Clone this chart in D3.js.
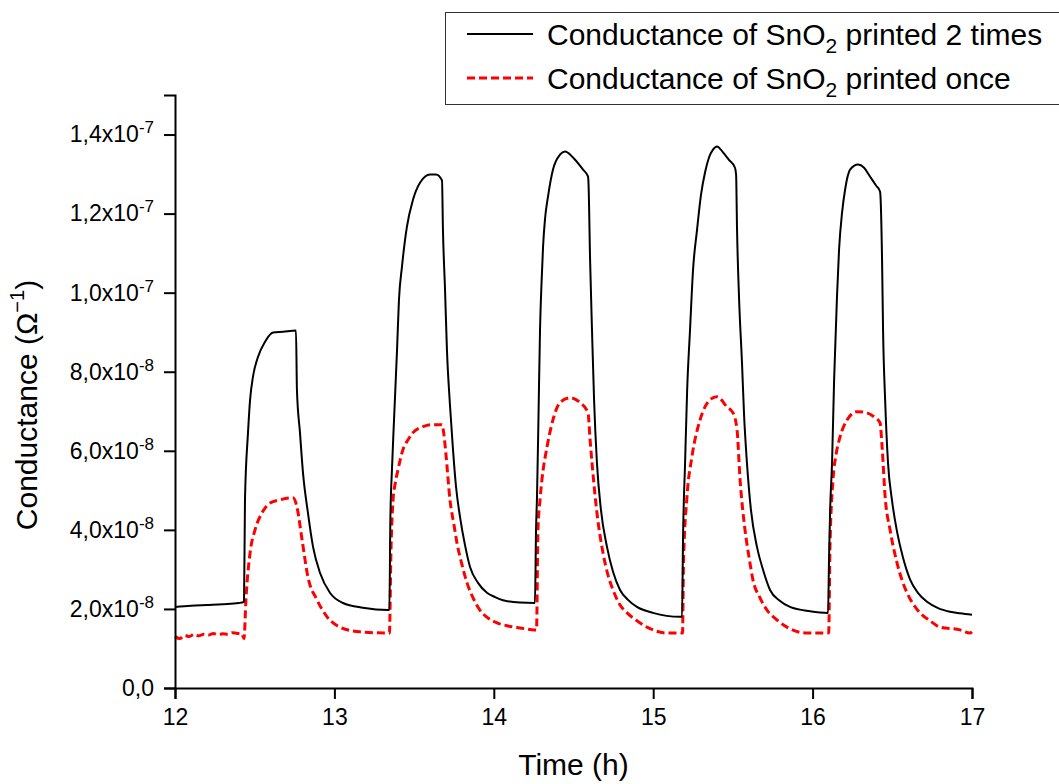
<!DOCTYPE html>
<html>
<head>
<meta charset="utf-8">
<script src="https://cdn.jsdelivr.net/npm/d3@7"></script>
<style>
  body { margin: 0; background: #fff; }
  svg { display: block; font-family: Arial, "Liberation Sans", sans-serif; }
</style>
</head>
<body>
<svg id="chart"></svg>
<script>
// time in hours, conductance in units of 1e-8 ohm^-1
var timeTwice = [12.00, 12.10, 12.20, 12.30, 12.40, 12.433,
  12.439, 12.458, 12.471, 12.489, 12.521, 12.565, 12.615, 12.678, 12.759,
  12.765, 12.784, 12.803, 12.834, 12.866, 12.910, 12.972, 13.054, 13.179, 13.336,
  13.345, 13.351, 13.361, 13.374, 13.393, 13.405, 13.424, 13.455, 13.493, 13.537, 13.600, 13.637, 13.675,
  13.681, 13.694, 13.706, 13.725, 13.744, 13.763, 13.788, 13.819, 13.851, 13.901, 13.957, 14.008, 14.058, 14.164, 14.258,
  14.265, 14.271, 14.280, 14.290, 14.299, 14.309, 14.321, 14.340, 14.371, 14.415, 14.447, 14.497, 14.560, 14.591, 14.594,
  14.604, 14.616, 14.629, 14.647, 14.672, 14.710, 14.748, 14.792, 14.842, 14.898, 14.999, 15.168, 15.181,
  15.187, 15.200, 15.213, 15.231, 15.250, 15.275, 15.300, 15.325, 15.350, 15.375, 15.400, 15.438, 15.475, 15.513, 15.520,
  15.526, 15.539, 15.557, 15.570, 15.588, 15.613, 15.651, 15.689, 15.733, 15.796, 15.858, 15.984, 16.097,
  16.103, 16.110, 16.122, 16.135, 16.153, 16.166, 16.185, 16.204, 16.235, 16.285, 16.323, 16.360, 16.398, 16.423, 16.426,
  16.436, 16.442, 16.455, 16.473, 16.498, 16.530, 16.567, 16.611, 16.662, 16.718, 16.787, 16.862, 16.925, 17.0];
var gTwice = [2.05, 2.08, 2.10, 2.12, 2.15, 2.18,
  4.76, 6.46, 7.29, 7.87, 8.38, 8.76, 8.99, 9.01, 9.04,
  7.54, 6.46, 5.44, 4.43, 3.57, 2.91, 2.41, 2.15, 2.03, 1.97,
  1.97, 4.25, 5.52, 6.78, 8.56, 9.82, 10.66, 11.67, 12.35, 12.78, 12.99, 12.99, 12.84,
  11.59, 10.08, 8.56, 7.16, 6.03, 5.09, 4.33, 3.62, 3.06, 2.66, 2.41, 2.30, 2.22, 2.16, 2.15,
  4.00, 4.84, 6.78, 9.06, 10.20, 11.16, 11.85, 12.43, 13.11, 13.49, 13.57, 13.42, 13.11, 12.94, 12.78,
  10.84, 9.06, 7.29, 5.70, 4.51, 3.57, 2.94, 2.48, 2.23, 2.05, 1.90, 1.80, 1.80,
  3.75, 5.70, 7.54, 9.06, 10.58, 11.59, 12.48, 13.04, 13.42, 13.62, 13.70, 13.55, 13.36, 13.16, 12.99,
  11.59, 9.82, 8.23, 6.91, 5.70, 4.51, 3.57, 2.99, 2.48, 2.20, 2.05, 1.94, 1.90,
  3.24, 4.51, 5.70, 7.80, 9.90, 11.09, 12.03, 12.61, 13.11, 13.24, 13.16, 12.94, 12.71, 12.56, 12.43,
  10.76, 9.06, 7.29, 5.70, 4.75, 3.95, 3.30, 2.75, 2.40, 2.18, 2.02, 1.93, 1.89, 1.85];

var timeOnce = [12.00, 12.03, 12.06, 12.09, 12.12, 12.15, 12.18, 12.21, 12.24, 12.27, 12.30, 12.33, 12.36, 12.39, 12.42, 12.433,
  12.445, 12.471, 12.502, 12.546, 12.596, 12.659, 12.740,
  12.765, 12.797, 12.834, 12.891, 12.954, 13.035, 13.161, 13.335,
  13.345, 13.355, 13.368, 13.380, 13.399, 13.430, 13.462, 13.493, 13.556, 13.612, 13.675,
  13.687, 13.700, 13.725, 13.750, 13.769, 13.801, 13.832, 13.870, 13.913, 13.964, 14.020, 14.089, 14.164, 14.258,
  14.268, 14.277, 14.290, 14.302, 14.334, 14.371, 14.415, 14.478, 14.541, 14.591,
  14.604, 14.616, 14.647, 14.685, 14.716, 14.748, 14.792, 14.836, 14.898, 14.961, 15.087, 15.175,
  15.184, 15.190, 15.212, 15.243, 15.294, 15.356, 15.400, 15.463, 15.501,
  15.526, 15.545, 15.576, 15.602, 15.626, 15.670, 15.714, 15.777, 15.839, 15.965, 16.097,
  16.101, 16.109, 16.128, 16.147, 16.172, 16.216, 16.279, 16.341, 16.385, 16.423,
  16.436, 16.455, 16.486, 16.530, 16.561, 16.592, 16.630, 16.674, 16.737, 16.799, 16.925, 16.987, 17.0];
var gOnce = [1.30, 1.25, 1.33, 1.30, 1.36, 1.32, 1.36, 1.34, 1.38, 1.35, 1.37, 1.36, 1.40, 1.38, 1.37, 1.25,
  2.23, 3.42, 4.00, 4.43, 4.68, 4.76, 4.81,
  4.58, 3.75, 2.81, 2.23, 1.80, 1.54, 1.42, 1.39,
  1.39, 3.49, 4.76, 5.14, 5.52, 6.03, 6.28, 6.46, 6.61, 6.66, 6.66,
  6.41, 5.90, 4.76, 4.13, 3.67, 3.11, 2.66, 2.28, 1.97, 1.77, 1.65, 1.57, 1.52, 1.47,
  1.47, 4.00, 4.76, 5.27, 6.10, 6.78, 7.22, 7.34, 7.22, 6.96,
  6.28, 5.70, 4.43, 3.42, 2.86, 2.48, 2.10, 1.90, 1.70, 1.54, 1.39, 1.39,
  1.39, 3.16, 4.84, 5.85, 6.78, 7.29, 7.37, 7.11, 6.96,
  6.53, 5.27, 4.00, 3.29, 2.73, 2.28, 1.97, 1.72, 1.54, 1.39, 1.39,
  1.40, 3.57, 5.27, 5.90, 6.35, 6.78, 6.99, 6.96, 6.86, 6.71,
  6.10, 4.84, 4.00, 3.16, 2.73, 2.41, 2.13, 1.90, 1.70, 1.54, 1.47, 1.39, 1.42];

var xMajor = [12, 13, 14, 15, 16, 17];
var xMinor = [12.5, 13.5, 14.5, 15.5, 16.5];
var yMajor = [0, 2, 4, 6, 8, 10, 12, 14];
var yMinor = [1, 3, 5, 7, 9, 11, 13, 15];

var legendNames = ["printed 2 times", "printed once"];

function zip(t, v) {
  return t.map(function(d, i) { return { t: d, g: v[i] }; });
}

function drawChart() {
  var svgWidth = 1059, svgHeight = 784;
  var left = 175, right = 972, top = 95, bottom = 688;

  var svg = d3.select("#chart")
    .attr("width", svgWidth)
    .attr("height", svgHeight);

  svg.append("rect").attr("width", svgWidth).attr("height", svgHeight).attr("fill", "#fff");

  var x = d3.scaleLinear().domain([12, 17]).range([left, right]);
  var y = d3.scaleLinear().domain([0, 15]).range([bottom, top]);

  var line = d3.line()
    .x(function(d) { return x(d.t); })
    .y(function(d) { return y(d.g); })
    .curve(d3.curveMonotoneX);

  // curves
  svg.append("path")
    .datum(zip(timeOnce, gOnce))
    .attr("fill", "none")
    .attr("stroke", "#ff0000")
    .attr("stroke-width", 3)
    .attr("stroke-dasharray", "8,4")
    .attr("d", line);

  svg.append("path")
    .datum(zip(timeTwice, gTwice))
    .attr("fill", "none")
    .attr("stroke", "#000")
    .attr("stroke-width", 2)
    .attr("stroke-linejoin", "round")
    .attr("d", line);

  // x axis, major + minor ticks
  var gx = svg.append("g").attr("transform", "translate(0," + bottom + ")");
  gx.call(d3.axisBottom(x).tickValues(xMinor).tickSize(6).tickFormat(""));
  gx.call(d3.axisBottom(x).tickValues(xMajor).tickSize(11).tickPadding(10).tickFormat(d3.format("d")));

  var gy = svg.append("g").attr("transform", "translate(" + left + ",0)");
  gy.call(d3.axisLeft(y).tickValues(yMinor).tickSize(6).tickFormat(""));
  gy.call(d3.axisLeft(y).tickValues(yMajor).tickSize(11).tickPadding(10).tickFormat(""));

  // labels like 1,4x10^-7
  gy.selectAll(".tick text").each(function(d) {
    var t = d3.select(this);
    t.text(null);
    if (d === 0) { t.text("0,0"); return; }
    var p = Math.floor(Math.log10(d));
    var mant = (d / Math.pow(10, p)).toFixed(1).replace(".", ",");
    t.append("tspan").text(mant + "x10");
    t.append("tspan").attr("dy", -9).attr("font-size", 17).text(p - 8);
  });

  svg.selectAll(".domain").attr("stroke-width", 2).attr("stroke", "#000");
  svg.selectAll(".tick line").attr("stroke-width", 2).attr("stroke", "#000");
  svg.selectAll(".tick text").attr("font-size", 23).attr("fill", "#000")
    .attr("font-family", "Arial, 'Liberation Sans', sans-serif");

  // axis titles
  svg.append("text")
    .attr("x", (left + right) / 2)
    .attr("y", 775)
    .attr("text-anchor", "middle")
    .attr("font-size", 30)
    .text("Time (h)");

  var yt = svg.append("text")
    .attr("transform", "translate(37,405) rotate(-90)")
    .attr("text-anchor", "middle")
    .attr("font-size", 30);
  yt.append("tspan").text("Conductance (\u03A9");
  yt.append("tspan").attr("dy", -13).attr("font-size", 20).text("\u22121");
  yt.append("tspan").attr("dy", 13).text(")");

  // legend
  var lg = svg.append("g");
  lg.append("rect")
    .attr("x", 445.5).attr("y", 12.5)
    .attr("width", 640).attr("height", 92)
    .attr("fill", "#fff").attr("stroke", "#333").attr("stroke-width", 1);

  var rows = [
    { name: legendNames[0], color: "#000", dash: null, width: 2, y: 34 },
    { name: legendNames[1], color: "#ff0000", dash: "8,4", width: 3, y: 78 }
  ];
  rows.forEach(function(r) {
    lg.append("line")
      .attr("x1", 467).attr("x2", 533)
      .attr("y1", r.y).attr("y2", r.y)
      .attr("stroke", r.color)
      .attr("stroke-width", r.width)
      .attr("stroke-dasharray", r.dash);
    var t = lg.append("text")
      .attr("x", 547).attr("y", r.y + 11)
      .attr("font-size", 30);
    t.append("tspan").text("Conductance of SnO");
    t.append("tspan").attr("dy", 8).attr("font-size", 21).text("2");
    t.append("tspan").attr("dy", -8).text(" " + r.name);
  });
}

drawChart();
</script>
</body>
</html>
